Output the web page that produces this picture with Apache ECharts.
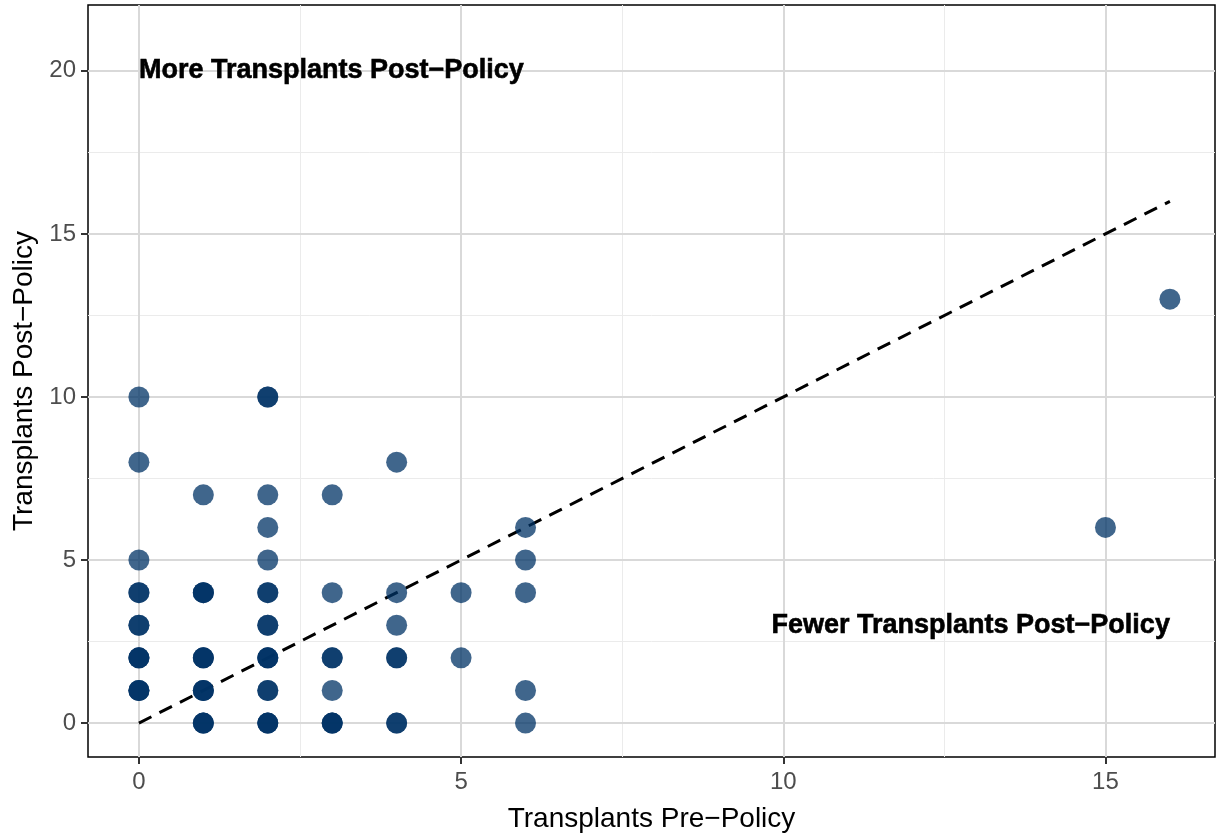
<!DOCTYPE html>
<html><head><meta charset="utf-8">
<script src="https://cdn.jsdelivr.net/npm/echarts@6/dist/echarts.min.js"></script>
<style>html,body{margin:0;padding:0;background:#fff}#c{width:1216px;height:840px}</style>
</head><body><div id="c"></div>
<script>
// Data: transplants pre-policy (x), post-policy (y), and number of overlapping programs at each point
const preVals  = [0,0,0,0,0,0,0, 1,1,1,1,1, 2,2,2,2,2,2,2,2,2, 3,3,3,3,3, 4,4,4,4,4, 5,5, 6,6,6,6,6, 15,16];
const postVals = [10,8,5,4,3,2,1, 7,4,2,1,0, 10,7,6,5,4,3,2,1,0, 7,4,2,1,0, 8,4,3,2,0, 4,2, 6,5,4,1,0, 6,13];
const counts   = [1,1,1,2,2,3,3, 1,3,3,3,3, 2,1,1,1,2,2,3,2,3, 1,1,2,1,3, 1,1,1,2,2, 1,1, 1,1,1,1,1, 1,1];
const xTicks = [0,5,10,15];
const yTicks = [0,5,10,15,20];
const xMinor = [2.5,7.5,12.5];
const yMinor = [2.5,7.5,12.5,17.5];
const refLine = [[0,0],[16,16]];
const annotations = [
  {x:0, y:20, text:'More Transplants Post\u2212Policy', align:'left'},
  {x:16, y:3, text:'Fewer Transplants Post\u2212Policy', align:'right'}
];

const pts = [];
preVals.forEach((x,i)=>{ for(let k=0;k<counts[i];k++) pts.push([x,postVals[i]]); });

const font = 'Liberation Sans, Arial, Helvetica, sans-serif';
const gridLines = [];
xMinor.forEach(v=>gridLines.push({xAxis:v, lineStyle:{color:'#ebebeb', width:1, type:'solid'}}));
yMinor.forEach(v=>gridLines.push({yAxis:v, lineStyle:{color:'#ebebeb', width:1, type:'solid'}}));
xTicks.forEach(v=>gridLines.push({xAxis:v, lineStyle:{color:'#d9d9d9', width:2, type:'solid'}}));
yTicks.forEach(v=>gridLines.push({yAxis:v, lineStyle:{color:'#d9d9d9', width:2, type:'solid'}}));

const chart = echarts.init(document.getElementById('c'), null, {renderer:'canvas'});
chart.setOption({
  animation:false,
  backgroundColor:'#fff',
  grid:{left:88, top:5, width:1127, height:752, show:true, borderColor:'#000', borderWidth:1.5,
        containLabel:false, outerBoundsMode:'none'},
  xAxis:{
    type:'value', min:-0.79, max:16.7,
    name:'Transplants Pre\u2212Policy', nameLocation:'middle', nameGap:48,
    nameTextStyle:{fontFamily:font, fontSize:28, color:'#000'},
    axisLine:{show:false, onZero:false},
    axisTick:{show:true, customValues:xTicks, length:7, lineStyle:{color:'#333', width:2}},
    axisLabel:{customValues:xTicks, fontFamily:font, fontSize:24, color:'#4d4d4d', margin:13},
    splitLine:{show:false}
  },
  yAxis:{
    type:'value', min:-1.04, max:22.02,
    name:'Transplants Post\u2212Policy', nameLocation:'middle', nameGap:47, nameRotate:90,
    nameTextStyle:{fontFamily:font, fontSize:28, color:'#000'},
    axisLine:{show:false, onZero:false},
    axisTick:{show:true, customValues:yTicks, length:7, lineStyle:{color:'#333', width:2}},
    axisLabel:{customValues:yTicks, fontFamily:font, fontSize:24, color:'#4d4d4d', margin:12},
    splitLine:{show:false}
  },
  series:[
    {type:'line', data:[], silent:true, z:1,
     markLine:{silent:true, z:1, symbol:'none', label:{show:false}, data:gridLines, animation:false}},
    {type:'line', data:refLine, symbol:'none', z:3,
     lineStyle:{color:'#000', width:3, type:[14,9]}},
    {type:'scatter', data:pts, symbolSize:21, z:4,
     itemStyle:{color:'rgb(0,51,102)', opacity:0.75}},
    {type:'scatter', z:5, symbolSize:0, silent:true,
     data:annotations.map(a=>({value:[a.x,a.y], label:{show:true, formatter:a.text,
        position: a.align==='left' ? 'right' : 'left', distance:0, opacity:1,
        fontFamily:font, fontSize:27, fontWeight:'bold', color:'#000',
        textBorderColor:'#000', textBorderWidth:0.6}}))}
  ]
});
</script></body></html>
